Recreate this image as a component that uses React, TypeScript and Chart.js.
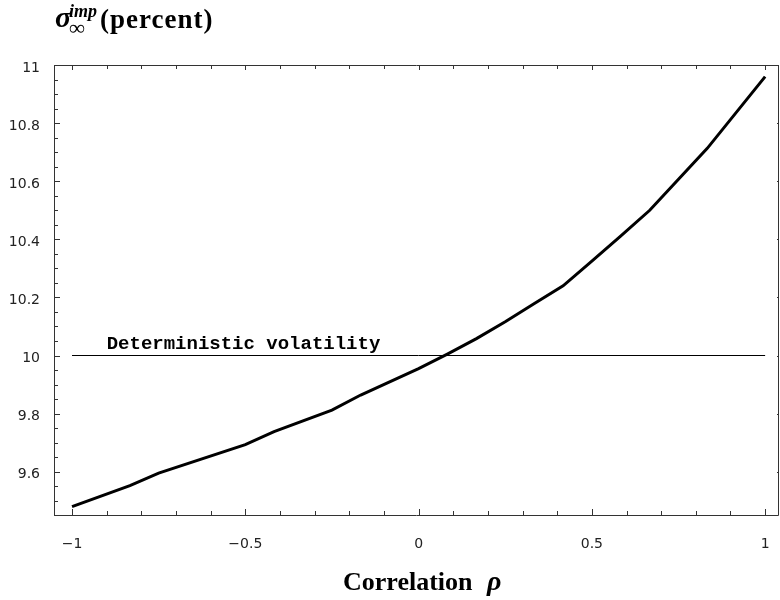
import { useEffect, useRef } from "react";
import { Chart, registerables } from "chart.js";

Chart.register(...registerables);

// ---- data ----
const rho = [-1, -0.833, -0.75, -0.5, -0.417, -0.25, -0.167, 0, 0.083, 0.167, 0.25, 0.333, 0.417, 0.5, 0.583, 0.667, 0.833, 1];
const impliedVol = [9.48, 9.552, 9.595, 9.693, 9.738, 9.812, 9.864, 9.955, 10.005, 10.058, 10.116, 10.178, 10.24, 10.325, 10.411, 10.5, 10.713, 10.96];
const deterministicRho = [-1, 1];
const deterministicVol = [10, 10];
const xTickValues = [-1, -0.5, 0, 0.5, 1];
const xTickLabels = ["\u22121", "\u22120.5", "0", "0.5", "1"];
const yTickValues = [9.6, 9.8, 10, 10.2, 10.4, 10.6, 10.8, 11];
const yTickLabels = ["9.6", "9.8", "10", "10.2", "10.4", "10.6", "10.8", "11"];
const lineLabel = "Deterministic volatility";
const xTitleMain = "Correlation";
const xTitleSymbol = "\u03c1";
const yTitleSymbol = "\u03c3";
const yTitleSup = "imp";
const yTitleSub = "\u221e";
const yTitleRest = "(percent)";

const X_MIN = -1.052;
const X_MAX = 1.04;
const Y_MIN = 9.451;
const Y_MAX = 11;
const X_MINOR_STEP = 0.1;
const Y_MINOR_STEP = 0.05;

const framePlugin = {
  id: "mmaFrame",
  beforeDatasetsDraw(chart: any) {
    const { ctx, chartArea } = chart;
    const xs = chart.scales.x;
    const ys = chart.scales.y;
    const { left, right, top, bottom } = chartArea;
    ctx.save();
    ctx.strokeStyle = "#333";
    ctx.lineWidth = 1;
    ctx.beginPath();
    ctx.moveTo(left + 0.5, top + 0.5);
    ctx.lineTo(right - 0.5, top + 0.5);
    ctx.lineTo(right - 0.5, bottom + 0.5);
    ctx.lineTo(left + 0.5, bottom + 0.5);
    ctx.closePath();
    ctx.stroke();
    ctx.beginPath();
    for (let i = -20; i <= 20; i++) {
      const v = i * X_MINOR_STEP;
      if (v < X_MIN || v > X_MAX) continue;
      const px = Math.round(xs.getPixelForValue(v)) + 0.5;
      const major = xTickValues.some((t) => Math.abs(t - v) < 1e-6);
      ctx.moveTo(px, bottom);
      ctx.lineTo(px, bottom - (major ? 6 : 4));
      ctx.moveTo(px, top);
      ctx.lineTo(px, top + (major ? 5 : 4));
    }
    for (let i = 0; i <= 40; i++) {
      const v = 9.4 + i * Y_MINOR_STEP;
      if (v < Y_MIN - 0.004 || v > Y_MAX + 1e-6) continue;
      const py = Math.round(ys.getPixelForValue(v)) + 0.5;
      const major = yTickValues.some((t) => Math.abs(t - v) < 1e-6);
      ctx.moveTo(left, py);
      ctx.lineTo(left + (major ? 6 : 4), py);
      if (major) {
        ctx.moveTo(right, py);
        ctx.lineTo(right - 2, py);
      }
    }
    ctx.stroke();
    ctx.restore();
  },
  afterDraw(chart: any) {
    const { ctx } = chart;
    const xs = chart.scales.x;
    const ys = chart.scales.y;
    ctx.save();
    ctx.fillStyle = "#000";
    ctx.textBaseline = "alphabetic";
    ctx.textAlign = "left";
    ctx.font = "bold 19px 'Liberation Mono', 'DejaVu Sans Mono', monospace";
    ctx.fillText(lineLabel, xs.getPixelForValue(-0.9), ys.getPixelForValue(10) - 7);
    // y title
    ctx.font = "italic bold 30px 'Liberation Serif', serif";
    ctx.fillText(yTitleSymbol, 55, 27);
    ctx.font = "italic bold 18px 'Liberation Serif', serif";
    ctx.fillText(yTitleSup, 69, 17);
    ctx.font = "bold 22px 'Liberation Serif', 'DejaVu Serif', serif";
    ctx.fillText(yTitleSub, 69, 35);
    ctx.font = "bold 27px 'Liberation Serif', serif";
    (ctx as any).letterSpacing = "1px";
    ctx.fillText(yTitleRest, 100, 28);
    (ctx as any).letterSpacing = "0px";
    // x title
    ctx.font = "bold 26px 'Liberation Serif', serif";
    ctx.fillText(xTitleMain, 343, 590);
    ctx.font = "italic bold 28px 'Liberation Serif', serif";
    ctx.fillText(xTitleSymbol, 487, 590);
    ctx.restore();
  },
};

export default function App() {
  const ref = useRef<HTMLCanvasElement | null>(null);
  useEffect(() => {
    if (!ref.current) return;
    const chart = new Chart(ref.current, {
      type: "line",
      data: {
        datasets: [
          {
            label: "implied",
            data: rho.map((x, i) => ({ x, y: impliedVol[i] })),
            borderColor: "#000",
            borderWidth: 3,
            pointRadius: 0,
            tension: 0,
            fill: false,
          },
          {
            label: "deterministic",
            data: deterministicRho.map((x, i) => ({ x, y: deterministicVol[i] })),
            borderColor: "#000",
            borderWidth: 1,
            pointRadius: 0,
            fill: false,
          },
        ],
      },
      options: {
        responsive: false,
        animation: false,
        layout: { padding: { left: 0, top: 65, right: 1, bottom: 0 } },
        plugins: { legend: { display: false }, tooltip: { enabled: false } },
        scales: {
          x: {
            type: "linear",
            min: X_MIN,
            max: X_MAX,
            grid: { display: false },
            border: { display: false },
            afterBuildTicks: (s: any) => {
              s.ticks = xTickValues.map((v) => ({ value: v }));
            },
            afterFit: (s: any) => {
              s.height = 85;
              s.paddingLeft = 0;
              s.paddingRight = 0;
            },
            ticks: {
              autoSkip: false,
              maxRotation: 0,
              padding: 13,
              color: "#222",
              font: { family: "'DejaVu Sans', sans-serif", size: 14 },
              callback: (v: any) => {
                const i = xTickValues.findIndex((t) => Math.abs(t - Number(v)) < 1e-9);
                return i >= 0 ? xTickLabels[i] : "";
              },
            },
          },
          y: {
            type: "linear",
            min: Y_MIN,
            max: Y_MAX,
            grid: { display: false },
            border: { display: false },
            afterBuildTicks: (s: any) => {
              s.ticks = yTickValues.map((v) => ({ value: v }));
            },
            afterFit: (s: any) => {
              s.width = 54;
              s.paddingTop = 0;
              s.paddingBottom = 0;
            },
            ticks: {
              autoSkip: false,
              padding: 6,
              labelOffset: 3,
              color: "#222",
              font: { family: "'DejaVu Sans', sans-serif", size: 14 },
              callback: (v: any) => {
                const i = yTickValues.findIndex((t) => Math.abs(t - Number(v)) < 1e-9);
                return i >= 0 ? yTickLabels[i] : "";
              },
            },
          },
        },
      },
      plugins: [framePlugin],
    } as any);
    return () => chart.destroy();
  }, []);
  return (
    <div style={{ position: "absolute", left: 0, top: 0, width: 780, height: 600, background: "#fff" }}>
      <canvas ref={ref} width={780} height={600} style={{ display: "block" }} />
    </div>
  );
}
